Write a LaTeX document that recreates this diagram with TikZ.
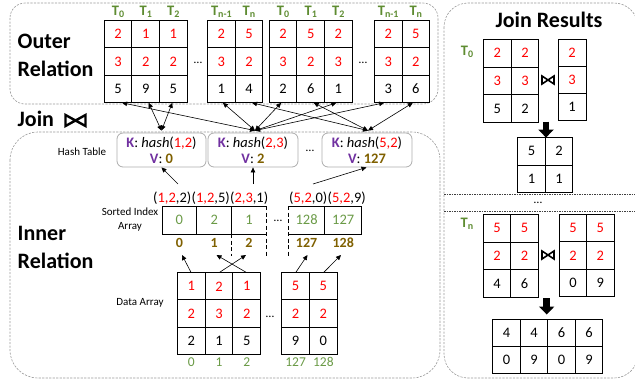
\documentclass[tikz,border=0pt]{standalone}
\usepackage{fontspec}
\setmainfont{Carlito}
\usetikzlibrary{arrows.meta,calc}
\definecolor{kred}{HTML}{FF0000}
\definecolor{tgreen}{HTML}{5E8C31}
\definecolor{vgreen}{HTML}{6A9A46}
\definecolor{kgold}{HTML}{7F6000}
\definecolor{kpurple}{HTML}{7030A0}
\newcommand\myfs[2]{\fontsize{#1}{#2}\selectfont}
\newcommand\rd[1]{\textcolor{kred}{#1}}
\newcommand\sub[1]{\raisebox{-0.35ex}{\fontsize{10}{10}\selectfont #1}}
\newcommand\tcol[6]{%
  \node[cell,anchor=north west] (#1-1) at (#2,#3) {\rd{#4}};
  \node[cell,anchor=north] (#1-2) at (#1-1.south) {\rd{#5}};
  \node[cell,anchor=north] (#1-3) at (#1-2.south) {#6};}
\newcommand\tcoltwo[5]{%
  \node[cell,anchor=north west] (#1-1) at (#2,#3) {#4};
  \node[cell,anchor=north] (#1-2) at (#1-1.south) {#5};}
\newcommand\mybow[5]{%
  \draw[line width=#5,line join=miter] (#1-#3/2,#2-#4/2) -- (#1+#3/2,#2+#4/2) -- (#1+#3/2,#2-#4/2) -- (#1-#3/2,#2+#4/2) -- cycle;}
\begin{document}
\begin{tikzpicture}[x=1pt,y=-1pt,
  cell/.style={draw=black,line width=0.9pt,inner sep=0pt,outer sep=0pt,minimum width=27.6pt,minimum height=27.6pt,font=\myfs{14.5}{16}},
  grp/.style={draw=gray!80,dash pattern=on 2.2pt off 1.3pt,line width=0.6pt},
  sep/.style={draw=black!75,dash pattern=on 1.5pt off 1pt,line width=0.6pt},
  big/.style={font=\myfs{22}{28}\bfseries,inner sep=0pt,align=left},
  tlab/.style={font=\myfs{14.5}{16}\bfseries,text=tgreen,inner sep=0pt},
  small/.style={font=\myfs{11}{14.5},inner sep=0pt,align=center},
  hbox/.style={draw=gray!65,line width=0.8pt,rounded corners=6pt,minimum height=34pt,inner sep=0pt,align=center,font=\myfs{14.5}{16}},
  sc/.style={inner sep=0pt,outer sep=0pt,minimum height=28pt,font=\myfs{14.5}{16},text=vgreen},
  sline/.style={line width=0.9pt},
  sdash/.style={line width=0.9pt,dash pattern=on 4pt off 2.5pt},
  gidx/.style={inner sep=0pt,font=\myfs{14}{16}\bfseries,text=kgold},
  didx/.style={inner sep=0pt,font=\myfs{13.5}{16},text=vgreen},
  tup/.style={inner sep=0pt,font=\myfs{14.5}{16}},
  dots/.style={inner sep=0pt,font=\myfs{12}{14}},
  arr/.style={-{Triangle[length=5pt,width=4.5pt]},line width=0.6pt},
  barr/.style={{Triangle[length=5pt,width=4.5pt]}-{Triangle[length=5pt,width=4.5pt]},line width=0.6pt},
  blk/.style={line width=6.5pt,-{Triangle[length=8pt,width=15pt]}},
]
\useasboundingbox (0,0) rectangle (635,381);
\clip (0,0) rectangle (635,381);

% group frames
\draw[grp,rounded corners=15pt] (10,3) rectangle (438,104);
\draw[grp,rounded corners=28pt] (10,132) rectangle (440,378);
\draw[grp,rounded corners=24pt] (444,3) rectangle (638,378);

% titles
\node[big,anchor=base west] (outer) at (17.5,76) {Outer\\Relation};
\node[big,anchor=base west] (join) at (17.5,126) {Join};
\mybow{75.5}{120.5}{20}{11}{2.4pt}
\node[big,anchor=base west] (inner) at (17.5,268.3) {Inner\\Relation};
\node[big,anchor=base] (jres) at (549,27) {Join Results};

% outer relation tables
\tcol{o1a}{104.3}{20}{2}{3}{5}
\tcol{o1b}{131.9}{20}{1}{2}{9}
\tcol{o1c}{159.5}{20}{1}{2}{5}
\tcol{o2a}{207.6}{20}{2}{3}{1}
\tcol{o2b}{235.2}{20}{5}{2}{4}
\tcol{o3a}{269.3}{20}{2}{3}{2}
\tcol{o3b}{296.9}{20}{5}{2}{6}
\tcol{o3c}{324.5}{20}{2}{3}{1}
\tcol{o4a}{374.4}{20}{2}{3}{3}
\tcol{o4b}{402}{20}{5}{2}{6}
\node[tlab,anchor=base] (l1a) at ([yshift=5pt]o1a-1.north) {T\sub{0}};
\node[tlab,anchor=base] (l1b) at ([yshift=5pt]o1b-1.north) {T\sub{1}};
\node[tlab,anchor=base] (l1c) at ([yshift=5pt]o1c-1.north) {T\sub{2}};
\node[tlab,anchor=base] (l2a) at ([yshift=5pt]o2a-1.north) {T\sub{n-1}};
\node[tlab,anchor=base] (l2b) at ([yshift=5pt]o2b-1.north) {T\sub{n}};
\node[tlab,anchor=base] (l3a) at ([yshift=5pt]o3a-1.north) {T\sub{0}};
\node[tlab,anchor=base] (l3b) at ([yshift=5pt]o3b-1.north) {T\sub{1}};
\node[tlab,anchor=base] (l3c) at ([yshift=5pt]o3c-1.north) {T\sub{2}};
\node[tlab,anchor=base] (l4a) at ([yshift=5pt]o4a-1.north) {T\sub{n-1}};
\node[tlab,anchor=base] (l4b) at ([yshift=5pt]o4b-1.north) {T\sub{n}};
\node[dots] (od1) at (198,63) {…};
\node[dots] (od2) at (363,63) {…};

% hash table
\node[small] (htl) at (82,152) {Hash Table};
\node[hbox,minimum width=89pt] (hb1) at (161.5,150) {\textcolor{kpurple}{\textbf{K}}: \textit{hash}(\rd{1,2})\\\textcolor{kpurple}{\textbf{V}}: \textcolor{kgold}{\textbf{0}}};
\node[hbox,minimum width=90pt] (hb2) at (253,150) {\textcolor{kpurple}{\textbf{K}}: \textit{hash}(\rd{2,3})\\\textcolor{kpurple}{\textbf{V}}: \textcolor{kgold}{\textbf{2}}};
\node[hbox,minimum width=90pt] (hb3) at (367,150) {\textcolor{kpurple}{\textbf{K}}: \textit{hash}(\rd{5,2})\\\textcolor{kpurple}{\textbf{V}}: \textcolor{kgold}{\textbf{127}}};
\node[dots] (hd) at (310,151) {…};

% outer <-> hash arrows
\draw[barr] ([xshift=4pt]o1a-3.south) -- ([xshift=2pt,yshift=2pt]hb2.north);
\draw[barr] ([xshift=3pt]o1b-3.south) -- ([yshift=2pt]hb1.north);
\draw[barr] ([xshift=-1pt]o1c-3.south) -- ([yshift=2pt]hb1.north);
\draw[barr] ([xshift=1.5pt]o2a-3.south) -- ([xshift=2pt,yshift=2pt]hb2.north);
\draw[barr] ([xshift=3pt]o2b-3.south) -- ([xshift=1pt,yshift=2pt]hb3.north);
\draw[barr] ([xshift=-2pt]o3a-3.south) -- ([xshift=2pt,yshift=2pt]hb2.north);
\draw[barr] ([xshift=3pt]o3b-3.south) -- ([xshift=1pt,yshift=2pt]hb3.north);
\draw[barr] ([xshift=-2pt]o3c-3.south) -- ([xshift=2pt,yshift=2pt]hb2.north);
\draw[barr] ([xshift=-4pt]o4a-3.south) -- ([xshift=2pt,yshift=2pt]hb2.north);
\draw[barr] ([xshift=-3pt]o4b-3.south) -- ([xshift=1pt,yshift=2pt]hb3.north);

% sorted index array
\node[small] (sil) at (130,219.5) {Sorted Index\\Array};
\node[tup,anchor=base west] (t0) at (153,202.3) {(\rd{1,2},2)};
\node[tup,anchor=base west] (t1) at (t0.base east) {(\rd{1,2},5)};
\node[tup,anchor=base west] (t2) at (t1.base east) {(\rd{2,3},1)};
\node[tup,anchor=base west] (t3) at (289,202.3) {(\rd{5,2},0)};
\node[tup,anchor=base west] (t4) at (t3.base east) {(\rd{5,2},9)};
\node[sc,minimum width=34.8pt] (s0) at (179.4,220) {0};
\node[sc,minimum width=34.8pt] (s1) at (214.2,220) {2};
\node[sc,minimum width=34.8pt] (s2) at (249,220) {1};
\node[sc,minimum width=36.6pt] (s127) at (306.6,220) {128};
\node[sc,minimum width=36.6pt] (s128) at (343.2,220) {127};
\draw[sline] (s2.north east) -- (s0.north west) -- (s0.south west) -- (s2.south east);
\draw[sline] (s0.north east) -- (s0.south east);
\draw[sline] (s1.north east) -- (s1.south east);
\draw[sdash] (s1.south east) -- ++(0,22);
\draw[sdash] (s2.north east) -- ++(0,50);
\draw[sline] (s127.north west) -- (s128.north east) -- (s128.south east) -- (s127.south west);
\draw[sline] (s127.north east) -- (s127.south east);
\draw[sdash] (s127.north west) -- ++(0,50);
\node[dots] (sd) at (278,221) {…};
\node[gidx] (g0) at (179.4,242.5) {0};
\node[gidx] (g1) at (214.2,242.5) {1};
\node[gidx] (g2) at (249,242.5) {2};
\node[gidx] (g127) at (306.6,242.5) {127};
\node[gidx] (g128) at (343.2,242.5) {128};

% sorted -> hash arrows
\coordinate (h0) at (178,184);
\coordinate (h2) at (253,184);
\coordinate (h3) at (313,184);
\draw[arr] (h0) -- (hb1.south);
\draw[arr] (h2) -- (hb2.south);
\draw[arr] (h3) -- ([xshift=-0.5pt]hb3.south);

% data array
\node[small] (dal) at (140,303) {Data Array};
\begin{scope}[cell/.append style={minimum width=27.8pt,minimum height=27.2pt}]
\tcol{d0}{177.3}{272.7}{1}{2}{2}
\tcol{d1}{205.1}{272.7}{2}{3}{1}
\tcol{d2}{232.9}{272.7}{1}{2}{5}
\tcol{d127}{281.7}{272.7}{5}{2}{9}
\tcol{d128}{309.5}{272.7}{5}{2}{0}
\end{scope}
\node[didx,anchor=north] (x0) at ([yshift=-3pt]d0-3.south) {0};
\node[didx,anchor=north] (x1) at ([yshift=-3pt]d1-3.south) {1};
\node[didx,anchor=north] (x2) at ([yshift=-3pt]d2-3.south) {2};
\node[didx,anchor=north] (x127) at ([yshift=-3pt]d127-3.south) {127};
\node[didx,anchor=north] (x128) at ([yshift=-3pt]d128-3.south) {128};
\node[dots] (dd) at (270,317) {…};

% data -> sorted arrows
\coordinate (p0) at (182,255);
\coordinate (p1) at (216.5,255);
\coordinate (p2) at (246,255);
\coordinate (p127) at (307.5,255);
\coordinate (p128) at (341,255);
\draw[arr] (d0-1.north) -- (p0);
\draw[arr] (d1-1.north) -- (p2);
\draw[arr] (d2-1.north) -- (p1);
\draw[arr] (d127-1.north) -- (p127);
\draw[arr] (d128-1.north) -- (p128);

% join results: T0
\node[tlab,anchor=base] (rt0) at (467,55) {T\sub{0}};
\begin{scope}[cell/.append style={minimum width=27.8pt,minimum height=27.7pt}]
\tcol{a0}{483.3}{39.3}{2}{3}{5}
\tcol{a1}{511.1}{39.3}{2}{3}{2}
\end{scope}
\begin{scope}[cell/.append style={minimum width=27.7pt,minimum height=27.2pt}]
\tcol{b0}{558.3}{39.3}{2}{3}{1}
\end{scope}
\mybow{548}{80}{12}{8}{1.6pt}
\coordinate (k1s) at (546,121.5);
\coordinate (k1e) at (546,137.6);
\draw[blk] (k1s) -- (k1e);
\begin{scope}[cell/.append style={minimum width=27.5pt,minimum height=27.7pt}]
\tcoltwo{c0}{517.7}{137.3}{5}{1}
\tcoltwo{c1}{545.2}{137.3}{2}{1}
\end{scope}

% separators
\draw[sep] (444,194) -- (635,194);
\draw[sep] (444,211) -- (635,211);
\node[dots] (rd) at (538,203) {…};

% join results: Tn
\node[tlab,anchor=base] (rtn) at (467,227) {T\sub{n}};
\begin{scope}[cell/.append style={minimum width=27.5pt,minimum height=27.7pt}]
\tcol{e0}{483.3}{214.3}{5}{2}{4}
\tcol{e1}{510.8}{214.3}{5}{2}{6}
\end{scope}
\begin{scope}[cell/.append style={minimum width=27.4pt,minimum height=27.6pt}]
\tcol{f0}{559.3}{214}{5}{2}{0}
\tcol{f1}{586.7}{214}{5}{2}{9}
\end{scope}
\mybow{548}{255}{12}{8}{1.6pt}
\coordinate (k2s) at (546.7,298);
\coordinate (k2e) at (546.7,314.5);
\draw[blk] (k2s) -- (k2e);
\begin{scope}[cell/.append style={minimum width=27.5pt,minimum height=27.3pt}]
\tcoltwo{r0}{492.7}{319.3}{4}{0}
\tcoltwo{r1}{520.2}{319.3}{4}{9}
\tcoltwo{r2}{547.7}{319.3}{6}{0}
\tcoltwo{r3}{575.2}{319.3}{6}{9}
\end{scope}
\end{tikzpicture}
\end{document}
